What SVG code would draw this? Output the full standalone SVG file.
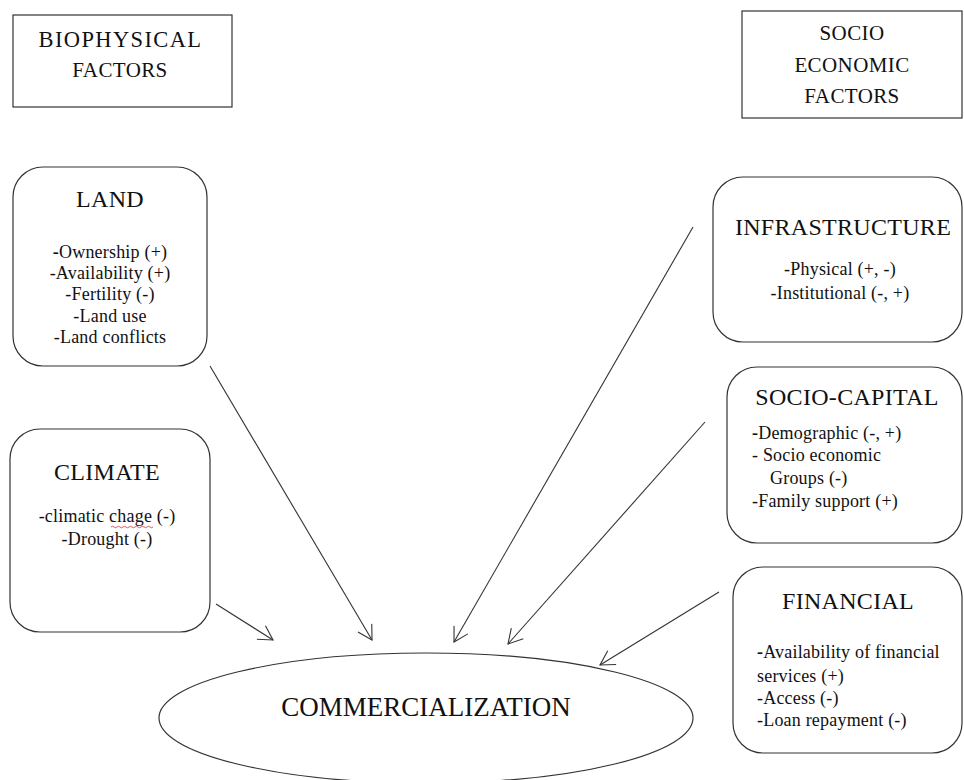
<svg xmlns="http://www.w3.org/2000/svg" width="964" height="780" viewBox="0 0 964 780" font-family="'Liberation Serif', Tinos, 'DejaVu Serif', serif">
<defs>
<style>
text{font-family:"Liberation Serif",Tinos,"DejaVu Serif",serif;fill:#111;}
.h{font-size:21px;text-anchor:middle;letter-spacing:0.4px;}
.t{font-size:24px;text-anchor:middle;letter-spacing:0.3px;}
.i{font-size:18px;letter-spacing:0.2px;}
.c{text-anchor:middle;}
.box{fill:#fff;stroke:#333;stroke-width:1.2;}
.conn line{stroke:#333;stroke-width:1.1;marker-end:url(#ah);}
.b{font-weight:bold;}
</style>
<marker id="ah" viewBox="-16 -10 18 20" refX="0" refY="0" markerWidth="18" markerHeight="20" markerUnits="userSpaceOnUse" orient="auto">
<path d="M-14,-8 L0,0 L-14,8" fill="none" stroke="#333" stroke-width="1.1"/>
</marker>
</defs>
<rect width="964" height="780" fill="#fff"/>

<g id="biophysical">
<rect class="box" x="13" y="15" width="219" height="92"/>
<text class="h" x="120" y="47" style="font-size:22.5px" textLength="163" lengthAdjust="spacing">BIOPHYSICAL</text>
<text class="h" x="120" y="77">FACTORS</text>
</g>

<g id="socioeconomic">
<rect class="box" x="742" y="11" width="220" height="107"/>
<text class="h" x="852" y="40">SOCIO</text>
<text class="h" x="852" y="72">ECONOMIC</text>
<text class="h" x="852" y="103">FACTORS</text>
</g>

<g id="land">
<rect class="box" x="13" y="167" width="194" height="199" rx="30"/>
<text class="t" x="110" y="207">LAND</text>
<text class="i c" x="110" y="258"><tspan class="b">-</tspan>Ownership (+)</text>
<text class="i c" x="110" y="279">-Availability (+)</text>
<text class="i c" x="110" y="300">-Fertility (-)</text>
<text class="i c" x="110" y="322">-Land use</text>
<text class="i c" x="110" y="343">-Land conflicts</text>
</g>

<g id="climate">
<rect class="box" x="10" y="429" width="200" height="203" rx="30"/>
<text class="t" x="107" y="480">CLIMATE</text>
<text class="i c" x="107" y="522">-climatic chage (-)</text>
<text class="i c" x="107" y="545">-Drought (-)</text>
<path d="M111,527 q1.5,-1.5 3,0 t3,0 t3,0 t3,0 t3,0 t3,0 t3,0 t3,0 t3,0 t3,0 t3,0 t3,0 t3,0 t3,0" fill="none" stroke="#e03030" stroke-width="0.8"/>
</g>

<g id="infrastructure">
<rect class="box" x="713" y="177" width="249" height="165" rx="30"/>
<text class="t" x="843" y="235">INFRASTRUCTURE</text>
<text class="i c" x="840" y="275">-Physical (+, -)</text>
<text class="i c" x="840" y="299">-Institutional (-, +)</text>
</g>

<g id="socio-capital">
<rect class="box" x="727" y="367" width="235" height="176" rx="30"/>
<text class="t" x="847" y="405">SOCIO-CAPITAL</text>
<text class="i" x="752" y="439"><tspan class="b">-</tspan>Demographic (-, +)</text>
<text class="i" x="752" y="461">- Socio economic</text>
<text class="i" x="770" y="484">Groups (-)</text>
<text class="i" x="752" y="507">-Family support (+)</text>
</g>

<g id="financial">
<rect class="box" x="733" y="567" width="229" height="186" rx="30"/>
<text class="t" x="848" y="609">FINANCIAL</text>
<text class="i" x="757" y="658"><tspan class="b">-</tspan>Availability of financial</text>
<text class="i" x="757" y="682">services (+)</text>
<text class="i" x="757" y="704">-Access (-)</text>
<text class="i" x="757" y="726">-Loan repayment (-)</text>
</g>

<g id="commercialization">
<ellipse class="box" cx="426" cy="718" rx="267" ry="65"/>
<text x="426" y="716" style="font-size:27px;text-anchor:middle;">COMMERCIALIZATION</text>
</g>

<g id="connectors" class="conn">
<line x1="216" y1="604" x2="273" y2="640"/>
<line x1="210" y1="366" x2="372" y2="640"/>
<line x1="693" y1="227" x2="454" y2="642"/>
<line x1="705" y1="422" x2="508" y2="644"/>
<line x1="719" y1="592" x2="600" y2="665"/>
</g>
</svg>
